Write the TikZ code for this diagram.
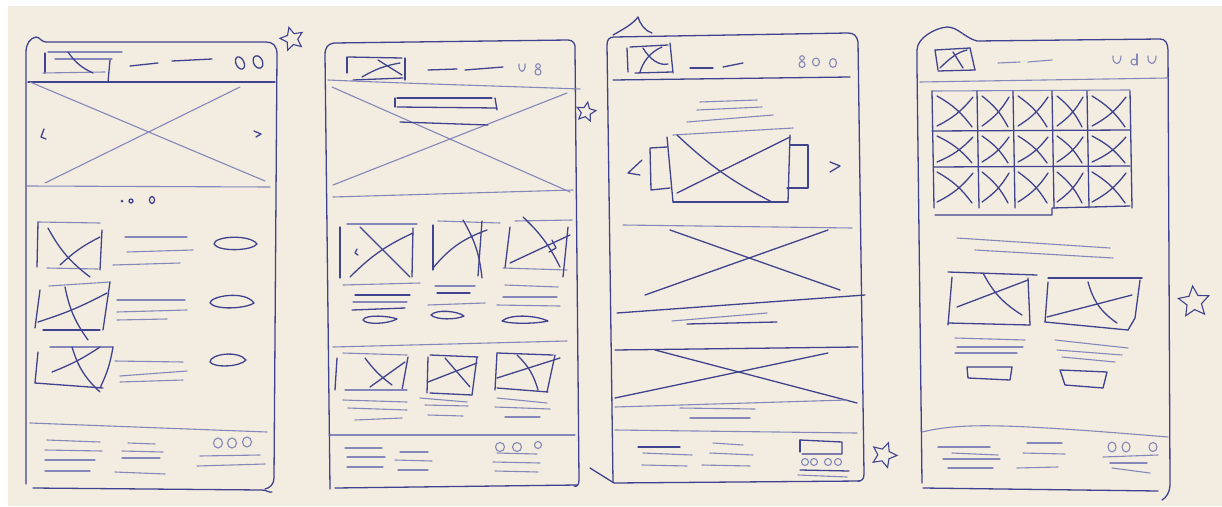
\documentclass[tikz,border=0pt]{standalone}
\usetikzlibrary{shapes.geometric}
\definecolor{paper}{HTML}{F3ECE0}
\definecolor{ink}{HTML}{40438E}
\definecolor{lightink}{HTML}{8587BA}
\tikzset{
 pen/.style={draw=ink, line width=1.3pt, line cap=round, line join=round},
 faint/.style={draw=lightink, line width=1.1pt, line cap=round},
 starmark/.style={star, star points=5, star point ratio=2.1, draw=ink, line width=1.1pt, inner sep=0pt},
}
\begin{document}
\begin{tikzpicture}[x=1pt,y=-1pt]
\useasboundingbox (0,0) rectangle (1222,506);
\fill[white] (0,0) rectangle (1222,506);
\fill[paper] (8,6) rectangle (1222,506);

% ================= FRAME 1 =================
\draw[pen] (26,484) -- (26,52) .. controls (26,44) and (30,38) .. (36,37) .. controls (40,37) and (41,42) .. (46,42) -- (266,42) .. controls (273,42) and (277,46) .. (277,54) -- (274,478) .. controls (274,484) and (270,488) .. (265,489);
\draw[pen] (33,488) -- (262,490) .. controls (267,490) and (269,493) .. (272,492);
% header
\draw[pen] (28,82) -- (275,82);
\draw[pen] (45,53) -- (45,73);
\draw[faint] (48,52) -- (122,52);
\draw[faint] (55,59) -- (112,59);
\draw[faint] (43,73) -- (105,72);
\draw[pen] (110,60) -- (108,82);
\draw[pen] (68,52) to[bend right=15] (93,73);
\draw[pen] (130,66) -- (158,63);
\draw[pen] (172,61) -- (212,59);
\draw[pen, rotate around={25:(240,63)}] (240,63) ellipse (4 and 6.5);
\draw[pen, rotate around={25:(258,62)}] (258,62) ellipse (4.5 and 6.5);
% hero
\draw[faint] (30,82) -- (265,181);
\draw[faint] (240,87) -- (45,183);
\draw[pen] (44,129) -- (41,137) -- (46,139);
\draw[pen] (254,131) -- (261,134) -- (256,137);
\draw[faint] (27,186) -- (270,187);
\fill[ink] (122,201) circle (1.5);
\draw[pen] (131,201) circle (2);
\draw[pen] (152,200) ellipse (2.5 and 3.5);
% rows
\draw[faint] (38,222) -- (100,223);
\draw[pen] (38,222) -- (37,267);
\draw[faint] (47,268) -- (98,269);
\draw[pen] (102,230) -- (100,270);
\draw[pen] (48,228) to[bend right=12] (90,277);
\draw[pen] (100,237) to[bend right=8] (60,265);
\draw[faint] (125,237) -- (187,237);
\draw[faint] (127,252) -- (193,250);
\draw[faint] (113,265) -- (180,263);
\draw[pen] (214,244) .. controls (214,236) and (250,234) .. (257,244) .. controls (252,251) and (218,252) .. (214,244) -- cycle;

\draw[faint] (49,286) -- (110,282);
\draw[pen] (40,290) -- (35,328);
\draw[pen] (43,330) -- (100,330);
\draw[pen] (110,282) -- (103,330);
\draw[pen] (65,287) to[bend right=12] (88,340);
\draw[pen] (107,293) to[bend left=5] (38,322);
\draw[faint] (117,300) -- (185,300);
\draw[faint] (117,312) -- (187,310);
\draw[faint] (117,320) -- (167,319);
\draw[pen] (210,303) .. controls (210,296) and (245,290) .. (254,303) .. controls (245,309) and (215,310) .. (210,303) -- cycle;

\draw[faint] (50,347) -- (113,347);
\draw[pen] (38,352) -- (35,383);
\draw[pen] (35,383) -- (103,388);
\draw[pen] (113,347) to[bend left=8] (100,388);
\draw[pen] (72,347) to[bend right=15] (100,392);
\draw[pen] (100,347) to[bend left=6] (52,372);
\draw[faint] (115,361) -- (183,362);
\draw[faint] (120,376) -- (187,371);
\draw[faint] (120,382) -- (183,380);
\draw[pen] (210,362) .. controls (210,354) and (238,350) .. (246,360) .. controls (240,367) and (214,368) .. (210,362) -- cycle;
% footer
\draw[faint] (30,423) -- (267,432);
\draw[faint] (47,440) -- (100,442);
\draw[faint] (45,450) -- (102,451);
\draw[faint] (45,460) -- (95,460);
\draw[faint] (45,471) -- (90,471);
\draw[faint] (128,443) -- (155,444);
\draw[faint] (122,451) -- (163,452);
\draw[faint] (122,458) -- (160,458);
\draw[faint] (115,472) -- (165,474);
\draw[faint] (218,443) ellipse (4.5 and 5);
\draw[faint] (232,443) ellipse (4.5 and 5);
\draw[faint] (247,442) ellipse (4.5 and 5);
\draw[faint] (200,456) -- (260,455);
\draw[faint] (197,466) -- (265,464);
\node[starmark, minimum size=24pt, rotate=15] (st1) at (292,39) {};

% ================= FRAME 2 =================
\draw[pen] (330,489) -- (325,55) .. controls (325,47) and (328,44) .. (334,43) -- (568,40) .. controls (573,40) and (576,44) .. (575,50) -- (579,480) .. controls (579,485) and (577,487) .. (574,486);
\draw[pen] (335,488) -- (577,485);
% header
\draw[pen] (347,57) -- (347,73);
\draw[pen] (348,57) -- (402,58);
\draw[pen] (405,58) -- (405,80);
\draw[pen] (353,80) -- (403,78);
\draw[pen] (362,77) to[bend left=10] (400,63);
\draw[pen] (378,60) -- (402,75);
\draw[pen] (428,70) -- (457,69);
\draw[pen] (465,70) -- (503,67);
\draw[faint] (519,64) .. controls (518,74) and (526,74) .. (525,64);
\draw[faint] (538,66) circle (2.3);
\draw[faint] (538,72) circle (3);
\draw[faint] (328,80) .. controls (420,84) and (500,86) .. (580,89);
% hero
\draw[faint] (332,87) -- (570,192);
\draw[faint] (567,93) -- (333,185);
\draw[pen] (395,98) -- (395,107);
\draw[pen] (397,98) -- (492,98);
\draw[pen] (397,107) -- (497,108);
\draw[pen] (495,98) -- (497,110);
\draw[pen] (400,122) -- (488,125);
\draw[faint] (333,197) -- (573,190);
\node[starmark, minimum size=20pt, rotate=-10] (st2) at (586,112) {};
% cards row 1
\draw[faint] (347,224) -- (417,224);
\draw[pen] (340,227) -- (340,278);
\draw[pen] (413,228) -- (412,277);
\draw[pen] (360,227) -- (410,277);
\draw[pen] (413,233) to[bend right=10] (350,277);
\draw[pen] (357,249) -- (355,253) -- (358,255);
\draw[faint] (343,285) -- (420,283);
\draw[pen] (355,295) -- (410,295);
\draw[faint] (353,302) -- (407,302);
\draw[pen] (352,310) -- (405,308);
\draw[pen] (363,320) .. controls (365,314) and (390,316) .. (397,319) .. controls (388,324) and (366,325) .. (363,320) -- cycle;

\draw[faint] (438,221) -- (500,223);
\draw[pen] (433,225) -- (433,270);
\draw[pen] (482,221) -- (478,276);
\draw[pen] (463,220) to[bend left=12] (482,278);
\draw[pen] (487,230) to[bend right=15] (433,268);
\draw[faint] (435,286) -- (475,286);
\draw[pen] (437,293) -- (470,293);
\draw[faint] (428,305) -- (485,303);
\draw[pen] (431,315) .. controls (436,309) and (458,311) .. (464,316) .. controls (456,320) and (436,320) .. (431,315) -- cycle;

\draw[faint] (515,221) -- (572,220);
\draw[pen] (510,227) -- (505,268);
\draw[faint] (503,268) -- (567,270);
\draw[pen] (568,227) -- (563,277);
\draw[pen] (523,217) to[bend left=10] (560,267);
\draw[pen] (570,235) -- (510,263);
\draw[pen] (552,240) -- (556,248) -- (549,252);
\draw[faint] (505,285) -- (558,287);
\draw[faint] (503,297) -- (557,297);
\draw[faint] (497,305) -- (560,306);
\draw[pen] (502,321) .. controls (510,314) and (535,315) .. (548,321) .. controls (535,324) and (510,324) .. (502,321) -- cycle;
\draw[faint] (333,347) -- (567,341);
% cards row 2
\draw[faint] (343,353) -- (407,355);
\draw[pen] (337,358) -- (335,390);
\draw[pen] (408,357) -- (402,390);
\draw[faint] (345,390) -- (407,390);
\draw[pen] (365,358) to[bend right=8] (392,385);
\draw[pen] (405,362) -- (370,387);
\draw[faint] (343,400) -- (407,402);
\draw[faint] (348,408) -- (407,410);
\draw[faint] (355,420) -- (402,418);

\draw[pen] (430,355) -- (478,357);
\draw[pen] (428,357) -- (427,393);
\draw[pen] (477,357) -- (472,395);
\draw[pen] (430,393) -- (472,395);
\draw[pen] (445,358) -- (470,387);
\draw[pen] (477,363) -- (428,382);
\draw[faint] (420,398) -- (467,402);
\draw[faint] (425,405) -- (468,406);
\draw[faint] (428,415) -- (463,416);

\draw[pen] (497,353) -- (553,355);
\draw[pen] (497,353) -- (495,390);
\draw[pen] (555,355) -- (547,392);
\draw[pen] (497,388) -- (548,392);
\draw[pen] (517,355) to[bend left=15] (538,390);
\draw[pen] (560,358) -- (497,378);
\draw[faint] (497,398) -- (547,403);
\draw[faint] (495,407) -- (550,409);
\draw[faint] (505,417) -- (540,417);
% footer
\draw[faint] (330,435) -- (575,435);
\draw[faint] (345,448) -- (382,448);
\draw[faint] (347,457) -- (385,457);
\draw[faint] (347,467) -- (383,467);
\draw[faint] (400,452) -- (428,452);
\draw[faint] (395,460) -- (432,461);
\draw[faint] (398,470) -- (428,470);
\draw[faint] (500,447) ellipse (4.5 and 4.5);
\draw[faint] (517,447) ellipse (4.5 and 4.5);
\draw[faint] (538,445) ellipse (3.5 and 3.5);
\draw[faint] (497,453) -- (537,454);
\draw[faint] (493,462) -- (540,463);
\draw[faint] (495,471) -- (538,472);

% ================= FRAME 3 =================
\draw[pen] (613,482) -- (607,45) .. controls (607,40) and (609,37) .. (614,37) -- (848,33) .. controls (854,33) and (857,36) .. (858,42) -- (864,474) .. controls (864,479) and (862,481) .. (858,481);
\draw[pen] (590,468) -- (614,483) -- (860,481);
\draw[pen] (613,35) .. controls (622,30) and (633,24) .. (638,17) .. controls (640,24) and (645,31) .. (652,33);
% header
\draw[pen] (627,48) -- (628,72);
\draw[pen] (630,47) -- (668,45);
\draw[pen] (670,43) -- (673,73);
\draw[pen] (635,73) -- (672,72);
\draw[pen] (643,48) .. controls (650,60) and (660,66) .. (668,64);
\draw[pen] (662,47) .. controls (650,52) and (643,62) .. (640,72);
\draw[pen] (690,68) -- (713,68);
\draw[pen] (723,67) -- (743,63);
\draw[faint] (802,58) circle (2.3);
\draw[faint] (802,64.5) circle (3);
\draw[faint] (816,62) ellipse (3.5 and 4);
\draw[faint] (833,63) ellipse (3.5 and 4.5);
\draw[pen] (613,80) -- (850,77);
% title lines
\draw[faint] (700,102) -- (757,100);
\draw[faint] (697,110) -- (762,107);
\draw[faint] (687,122) -- (773,115);
% carousel
\draw[faint] (673,135) -- (793,128);
\draw[pen] (667,137) -- (673,202);
\draw[pen] (673,202) -- (788,202);
\draw[pen] (790,135) -- (788,202);
\draw[pen] (677,135) to[bend right=8] (772,202);
\draw[pen] (790,137) -- (677,193);
\draw[pen] (667,147) -- (650,148) -- (651,190) -- (670,188);
\draw[pen] (790,145) -- (808,145) -- (808,188) -- (787,188);
\draw[pen] (642,160) -- (628,173) -- (640,175);
\draw[pen] (830,162) -- (840,166) -- (830,172);
% big X sections
\draw[faint] (623,225) -- (852,228);
\draw[pen] (670,230) -- (840,290);
\draw[pen] (828,230) -- (645,295);
\draw[pen] (617,313) -- (865,295);
\draw[faint] (672,321) -- (767,313);
\draw[pen] (687,324) -- (777,322);
\draw[pen] (615,350) -- (858,347);
\draw[pen] (655,350) -- (857,403);
\draw[pen] (828,353) -- (615,398);
\draw[faint] (615,407) -- (847,400);
\draw[faint] (680,408) -- (755,409);
\draw[faint] (690,418) -- (750,418);
% footer
\draw[faint] (615,430) -- (857,433);
\draw[pen] (638,447) -- (680,447);
\draw[faint] (643,453) -- (692,455);
\draw[faint] (642,465) -- (687,466);
\draw[faint] (713,443) -- (743,445);
\draw[faint] (710,453) -- (753,455);
\draw[faint] (702,465) -- (750,466);
\draw[pen] (800,440) -- (842,442) -- (842,454) -- (802,454);
\draw[pen] (800,440) -- (800,452);
\draw[faint] (805,462) ellipse (3.5 and 3.5);
\draw[faint] (814,462) ellipse (3.5 and 3.5);
\draw[faint] (828,462) ellipse (3.5 and 3.5);
\draw[faint] (838,462) ellipse (3.5 and 3.5);
\draw[pen] (800,470) -- (849,471);
\draw[faint] (798,475) -- (847,477);
\node[starmark, minimum size=26pt, rotate=-20] (st3) at (884,455) {};

% ================= FRAME 4 =================
\draw[pen] (922,483) -- (917,67) -- (917,50) .. controls (917,38) and (935,28) .. (947,27) .. controls (958,27) and (965,38) .. (977,41) -- (1160,39) .. controls (1165,39) and (1168,43) .. (1168,50) -- (1170,485) .. controls (1170,492) and (1166,498) .. (1162,500);
\draw[pen] (923,488) -- (1158,491);
% header
\draw[pen] (935,50) -- (970,48);
\draw[pen] (935,50) -- (938,70);
\draw[pen] (970,48) -- (975,70);
\draw[pen] (938,71) -- (975,70);
\draw[pen] (940,68) .. controls (950,58) and (958,52) .. (967,50);
\draw[pen] (953,52) -- (963,68);
\draw[faint] (998,63) -- (1020,62);
\draw[faint] (1028,62) -- (1052,60);
\draw[faint] (1113,56) .. controls (1112,66) and (1121,66) .. (1121,56);
\draw[faint] (1134,62) circle (3);
\draw[faint] (1137,54) -- (1137,65);
\draw[faint] (1148,56) .. controls (1147,66) and (1156,66) .. (1156,56);
\draw[faint] (920,82) -- (1168,78);
% grid
\draw[faint] (932,91) -- (1130,90);
\draw[pen] (932,131) -- (1130,130);
\draw[pen] (934,167) -- (1130,166);
\draw[pen] (935,215) -- (1052,215) -- (1052,208) -- (1130,206);
\foreach \xx in {932,977,1013,1052,1087,1130}
  \draw[pen] (\xx,91) -- (\xx+2,208);
\foreach \xa/\xb in {932/977,977/1013,1013/1052,1052/1087,1087/1130}
  \foreach \ya/\yb in {91/131,131/167,167/207}
  {
    \draw[pen] (\xa+5,\ya+5) to[bend left=12] (\xb-5,\yb-4);
    \draw[pen] (\xb-4,\ya+6) to[bend left=12] (\xa+5,\yb-5);
  }
% lines
\draw[faint] (957,238) -- (1110,248);
\draw[faint] (975,250) -- (1113,258);
% image boxes
\draw[pen] (948,272) -- (1037,275);
\draw[pen] (952,277) -- (948,325);
\draw[pen] (948,323) -- (1030,325);
\draw[pen] (1028,278) -- (1030,325);
\draw[pen] (957,307) -- (1028,280);
\draw[pen] (983,273) to[bend right=15] (1022,315);
\draw[pen] (1048,278) -- (1142,278);
\draw[pen] (1048,282) -- (1045,322);
\draw[pen] (1045,322) -- (1128,330);
\draw[pen] (1140,280) -- (1135,318) -- (1128,330);
\draw[pen] (1047,317) -- (1132,295);
\draw[pen] (1088,282) to[bend right=20] (1117,323);
\draw[faint] (955,338) -- (1025,340);
\draw[faint] (957,347) -- (1023,347);
\draw[faint] (955,353) -- (1017,353);
\draw[faint] (1055,340) -- (1128,348);
\draw[faint] (1057,350) -- (1122,355);
\draw[faint] (1062,357) -- (1115,362);
\draw[pen] (967,367) -- (1012,367) -- (1010,380) -- (968,378) -- cycle;
\draw[pen] (1060,370) -- (1107,372) -- (1103,388) -- (1065,385) -- cycle;
% footer
\draw[faint] (922,432) .. controls (960,423) and (1000,423) .. (1168,437);
\draw[faint] (938,447) -- (990,447);
\draw[faint] (952,453) -- (998,455);
\draw[faint] (943,459) -- (1000,459);
\draw[faint] (948,468) -- (993,468);
\draw[faint] (1027,443) -- (1062,443);
\draw[faint] (1023,453) -- (1065,454);
\draw[faint] (1017,468) -- (1058,467);
\draw[faint] (1112,447) ellipse (4 and 5);
\draw[faint] (1126,447) ellipse (4 and 5);
\draw[faint] (1153,447) ellipse (4 and 4.5);
\draw[faint] (1103,457) -- (1158,455);
\draw[faint] (1110,463) -- (1147,463);
\draw[faint] (1112,468) -- (1150,473);
\node[starmark, minimum size=32pt, rotate=5] (st4) at (1194,302) {};
\end{tikzpicture}
\end{document}
